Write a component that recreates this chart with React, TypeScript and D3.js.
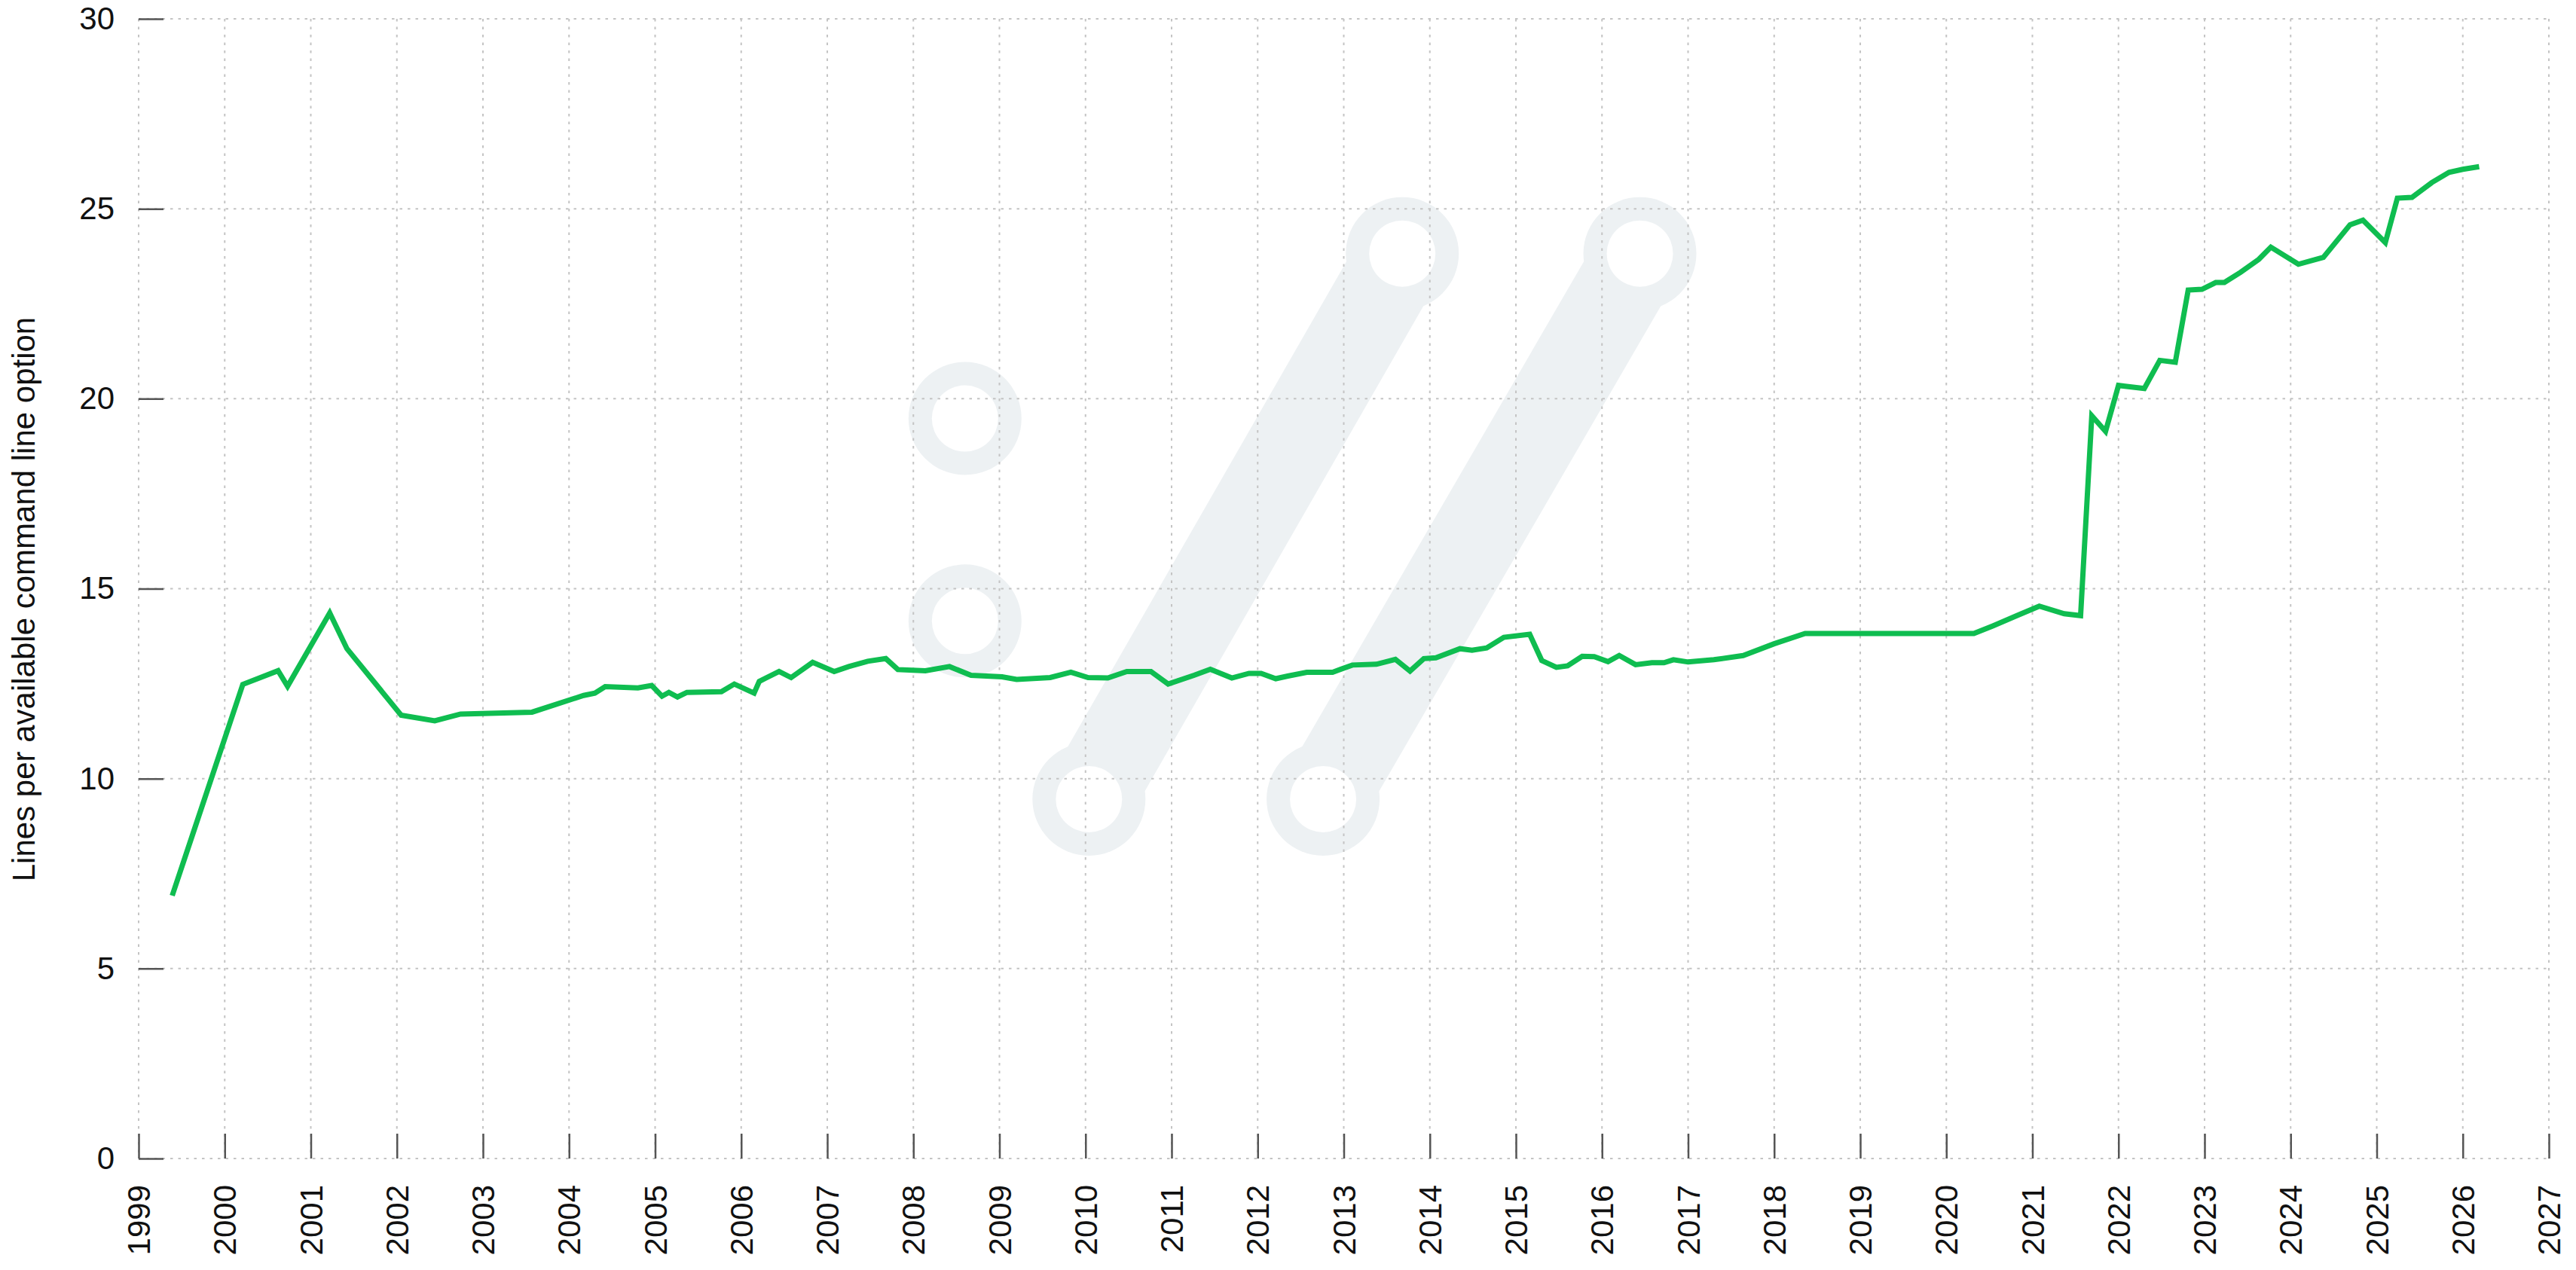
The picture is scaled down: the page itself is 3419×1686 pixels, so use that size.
import React, { useRef, useEffect } from 'react';
import * as d3 from 'd3';

// release dates (fractional years) and lines per command line option
const releaseYears = [
  1999.39, 2000.21, 2000.62, 2000.73, 2001.22, 2001.42, 2002.05, 2002.44, 2002.74, 2003.57,
  2004.17, 2004.30, 2004.42, 2004.80, 2004.96, 2005.08, 2005.16, 2005.26, 2005.37, 2005.77,
  2005.92, 2006.15, 2006.21, 2006.44, 2006.58, 2006.83, 2007.08, 2007.25, 2007.47, 2007.68,
  2007.82, 2008.14, 2008.42, 2008.67, 2009.03, 2009.20, 2009.59, 2009.83, 2010.03, 2010.26,
  2010.48, 2010.76, 2010.96, 2011.26, 2011.45, 2011.70, 2011.90, 2012.04, 2012.21, 2012.35,
  2012.57, 2012.87, 2013.10, 2013.38, 2013.60, 2013.77, 2013.93, 2014.07, 2014.35, 2014.49,
  2014.66, 2014.86, 2015.16, 2015.30, 2015.47, 2015.60, 2015.77, 2015.91, 2016.07, 2016.20,
  2016.39, 2016.58, 2016.72, 2016.83, 2017.00, 2017.30, 2017.64, 2018.00, 2018.36, 2019.00,
  2020.32, 2020.54, 2020.82, 2021.08, 2021.37, 2021.56, 2021.69, 2021.85, 2022.00, 2022.30,
  2022.48, 2022.66, 2022.81, 2022.97, 2023.13, 2023.23, 2023.42, 2023.63, 2023.77, 2024.09,
  2024.38, 2024.69, 2024.84, 2025.10, 2025.24, 2025.41, 2025.64, 2025.84, 2026.00, 2026.19
];

const linesPerOption = [
  6.92, 12.48, 12.84, 12.43, 14.36, 13.42, 11.67, 11.52, 11.70, 11.75,
  12.19, 12.25, 12.42, 12.39, 12.45, 12.17, 12.27, 12.15, 12.27, 12.29,
  12.49, 12.25, 12.56, 12.82, 12.66, 13.06, 12.82, 12.95, 13.09, 13.16,
  12.87, 12.84, 12.95, 12.72, 12.68, 12.61, 12.66, 12.80, 12.66, 12.65,
  12.82, 12.82, 12.49, 12.72, 12.88, 12.65, 12.77, 12.77, 12.63, 12.70,
  12.80, 12.80, 12.99, 13.01, 13.14, 12.83, 13.16, 13.18, 13.42, 13.38,
  13.44, 13.72, 13.80, 13.11, 12.93, 12.97, 13.22, 13.21, 13.08, 13.24,
  13.00, 13.05, 13.05, 13.13, 13.07, 13.13, 13.24, 13.55, 13.82, 13.82,
  13.82, 14.02, 14.29, 14.54, 14.34, 14.29, 19.55, 19.14, 20.35, 20.27,
  21.01, 20.96, 22.86, 22.88, 23.06, 23.06, 23.33, 23.67, 23.99, 23.54,
  23.72, 24.58, 24.70, 24.11, 25.28, 25.30, 25.69, 25.96, 26.04, 26.11
];

const yearTicks = d3.range(1999, 2028);
const valueTicks = [0, 5, 10, 15, 20, 25, 30];
const yLabel = 'Lines per available command line option';

const width = 3419;
const height = 1686;
const margin = { top: 25, right: 36, bottom: 148, left: 184 };
const font = '"Liberation Sans", Arial, sans-serif';

export default function App() {
  const svgRef = useRef<SVGSVGElement>(null);

  useEffect(() => {
    if (!svgRef.current) return;
    const svg = d3.select(svgRef.current);
    svg.selectAll('*').remove();

    const x = d3.scaleLinear().domain([1999, 2027]).range([margin.left, width - margin.right]);
    const y = d3.scaleLinear().domain([0, 30]).range([height - margin.bottom, margin.top]);

    const x0 = x.range()[0], x1 = x.range()[1];
    const yBottom = y.range()[0], yTop = y.range()[1];

    // watermark logo (in data coords so it sits at the same place)
    const wm = svg.append('g');
    const defs = svg.append('defs');
    const mask = defs.append('mask').attr('id', 'holes');
    mask.append('rect').attr('width', width).attr('height', height).attr('fill', '#fff');

    const rings: [number, number][] = [
      [2008.60, 19.48], [2008.60, 14.15],
      [2010.04, 9.46], [2013.68, 23.82],
      [2012.76, 9.46], [2016.44, 23.82]
    ];
    const bands: [number, number][][] = [
      [rings[2], rings[3]],
      [rings[4], rings[5]]
    ];
    const wmColor = '#edf1f3';
    const wmGroup = wm.append('g').attr('mask', 'url(#holes)');
    bands.forEach(([a, b]) => {
      wmGroup.append('line')
        .attr('x1', x(a[0])).attr('y1', y(a[1]))
        .attr('x2', x(b[0])).attr('y2', y(b[1]))
        .attr('stroke', wmColor)
        .attr('stroke-width', 118);
    });
    rings.forEach(([cx, cy]) => {
      wmGroup.append('circle')
        .attr('cx', x(cx)).attr('cy', y(cy)).attr('r', 75)
        .attr('fill', wmColor);
      mask.append('circle')
        .attr('cx', x(cx)).attr('cy', y(cy)).attr('r', 44)
        .attr('fill', '#000');
    });

    // grid
    const grid = svg.append('g');
    grid.selectAll('.hgrid')
      .data(valueTicks)
      .enter().append('line')
      .attr('x1', x0).attr('x2', x1)
      .attr('y1', d => y(d)).attr('y2', d => y(d))
      .attr('stroke', '#c4c4c4')
      .attr('stroke-width', 2)
      .attr('stroke-dasharray', '3.5,7');
    grid.selectAll('.vgrid')
      .data(yearTicks)
      .enter().append('line')
      .attr('x1', d => x(d)).attr('x2', d => x(d))
      .attr('y1', yTop).attr('y2', yBottom)
      .attr('stroke', '#c4c4c4')
      .attr('stroke-width', 2)
      .attr('stroke-dasharray', '3.5,7');

    // y axis
    const yAxis = svg.append('g')
      .attr('transform', `translate(${x0},0)`)
      .call(d3.axisLeft(y).tickValues(valueTicks).tickSize(-33).tickPadding(32).tickFormat(d3.format('d')));
    yAxis.select('.domain').remove();
    yAxis.selectAll('line').attr('stroke', '#555').attr('stroke-width', 2.5);
    yAxis.selectAll('text')
      .attr('font-family', font)
      .attr('font-size', 42)
      .attr('fill', '#111');

    // x axis
    const xAxis = svg.append('g')
      .attr('transform', `translate(0,${yBottom})`)
      .call(d3.axisBottom(x).tickValues(yearTicks).tickSize(-33).tickFormat(d3.format('d')));
    xAxis.select('.domain').remove();
    xAxis.selectAll('line').attr('stroke', '#555').attr('stroke-width', 2.5);
    xAxis.selectAll('text')
      .attr('font-family', font)
      .attr('font-size', 42)
      .attr('fill', '#111')
      .attr('transform', 'rotate(-90)')
      .attr('x', -35)
      .attr('y', 0)
      .attr('dy', '0.35em')
      .style('text-anchor', 'end');

    // y label
    svg.append('text')
      .attr('transform', `translate(46,${(yTop + yBottom) / 2 + 14}) rotate(-90)`)
      .attr('text-anchor', 'middle')
      .attr('font-family', font)
      .attr('font-size', 42)
      .attr('fill', '#111')
      .text(yLabel);

    // series
    const line = d3.line<number>()
      .x((_, i) => x(releaseYears[i]))
      .y(d => y(d));
    svg.append('path')
      .datum(linesPerOption)
      .attr('d', line)
      .attr('fill', 'none')
      .attr('stroke', '#0fbd50')
      .attr('stroke-width', 7)
      .attr('stroke-linejoin', 'miter');
  }, []);

  return (
    <div>
      <style>{'body{margin:0;background:#fff}'}</style>
      <svg ref={svgRef} width={width} height={height} style={{ display: 'block', background: '#fff' }} />
    </div>
  );
}
